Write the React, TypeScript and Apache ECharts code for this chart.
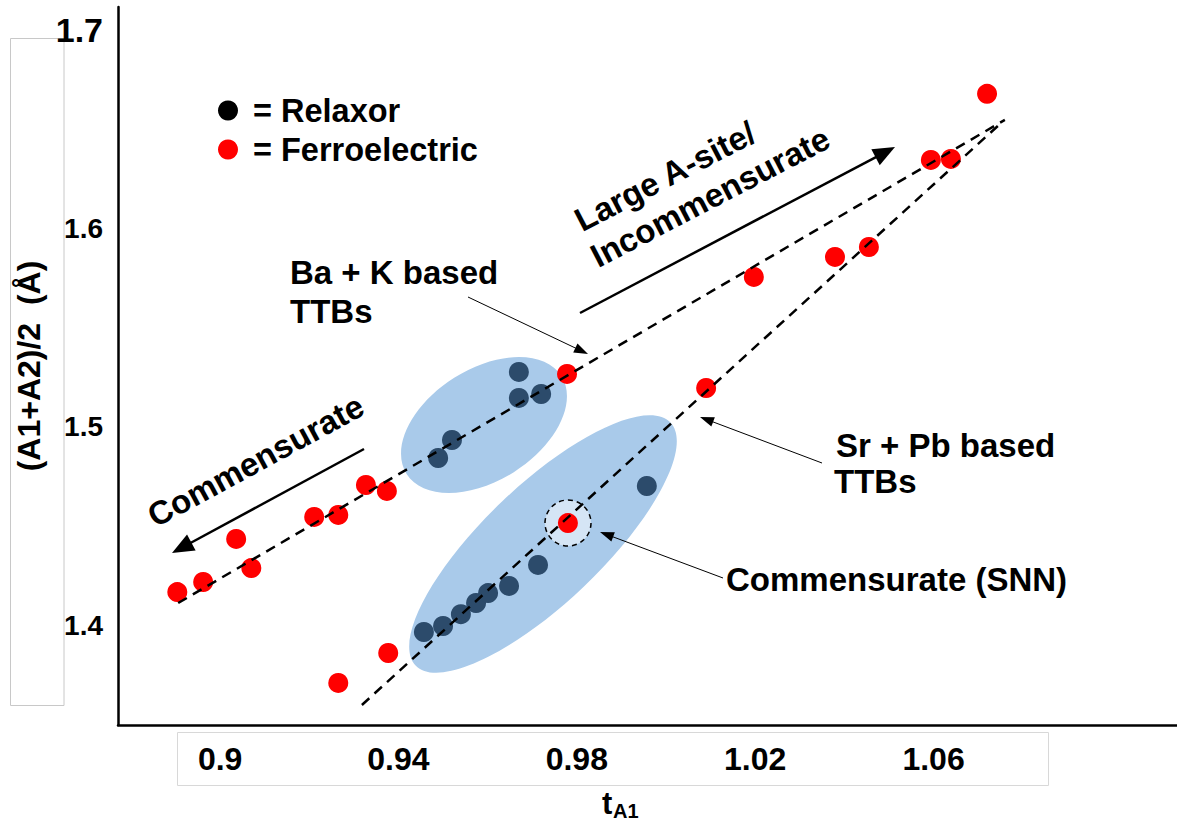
import React, { useEffect, useRef } from 'react';
import * as echarts from 'echarts';

const F = '"Liberation Sans", Arial, Helvetica, sans-serif';

// tick labels
const xTicks = [0.9, 0.94, 0.98, 1.02, 1.06];
const yTicks = [1.4, 1.5, 1.6, 1.7];

// Relaxor (dark) points
const relaxorX = [0.9489, 0.952, 0.967, 0.967, 0.972, 0.9457, 0.95, 0.954, 0.9574, 0.9601, 0.9648, 0.9713, 0.9957];
const relaxorY = [1.4843, 1.4934, 1.5277, 1.5146, 1.5166, 1.3966, 1.3996, 1.4056, 1.4112, 1.4162, 1.4198, 1.4304, 1.4702];

// Ferroelectric (red) points
const ferroX = [0.8904, 0.8962, 0.9036, 0.907, 0.9211, 0.9265, 0.9327, 0.9374, 0.9265, 0.9377, 0.9778, 0.978, 1.009, 1.0197, 1.0379, 1.0455, 1.0594, 1.0639, 1.072];
const ferroY = [1.4167, 1.4218, 1.4435, 1.4288, 1.4546, 1.4556, 1.4707, 1.4677, 1.3709, 1.386, 1.5267, 1.4515, 1.5196, 1.5756, 1.5857, 1.5907, 1.6346, 1.6351, 1.6679];

// dashed trend lines
const baKLineX = [0.8906, 1.076];
const baKLineY = [1.4112, 1.6548];
const srPbLineX = [0.9318, 1.0749];
const srPbLineY = [1.3598, 1.6527];

const pairs = (xs: number[], ys: number[]) => xs.map((x, i) => [x, ys[i]]);

function arrow(x1: number, y1: number, x2: number, y2: number, w: number, hl: number, hw: number) {
  const dx = x2 - x1, dy = y2 - y1;
  const L = Math.hypot(dx, dy);
  const ux = dx / L, uy = dy / L;
  const bx = x2 - ux * hl, by = y2 - uy * hl;
  const px = -uy, py = ux;
  return [
    { type: 'line', shape: { x1, y1, x2: bx + ux, y2: by + uy }, style: { stroke: '#000', lineWidth: w }, z: 10 },
    {
      type: 'polygon',
      shape: { points: [[x2, y2], [bx + (px * hw) / 2, by + (py * hw) / 2], [bx - (px * hw) / 2, by - (py * hw) / 2]] },
      style: { fill: '#000' },
      z: 10,
    },
  ];
}

function label(text: string, x: number, y: number, size: number, rotDeg = 0) {
  return {
    type: 'text',
    x,
    y,
    rotation: (rotDeg * Math.PI) / 180,
    style: { text, x: 0, y: 0, fontSize: size, fontWeight: 'bold', fontFamily: F, fill: '#000', align: 'left', verticalAlign: 'middle' },
    z: 10,
  };
}

export default function App() {
  const ref = useRef<HTMLDivElement>(null);
  useEffect(() => {
    document.body.style.margin = '0';
    const chart = echarts.init(ref.current!, undefined, { renderer: 'svg' });
    const option: any = {
      animation: false,
      backgroundColor: '#fff',
      grid: { left: 118, right: 0, top: 7, bottom: 98 },
      legend: {
        orient: 'vertical',
        left: 213,
        top: 89,
        itemWidth: 20,
        itemHeight: 20,
        itemGap: 6,
        icon: 'circle',
        selectedMode: false,
        data: [{ name: 'Relaxor', itemStyle: { color: '#000' } }, { name: 'Ferroelectric', itemStyle: { color: '#ff0000' } }],
        formatter: (n: string) => `{t|= ${n}}`,
        textStyle: { rich: { t: { fontSize: 32.5, fontWeight: 'bold', fontFamily: F, color: '#000', padding: [0, 0, 0, 10] } } },
      },
      xAxis: {
        type: 'value',
        min: 0.8771,
        max: 1.1146,
        axisLine: { show: true, lineStyle: { color: '#000', width: 2.5 } },
        axisTick: { show: false },
        splitLine: { show: false },
        axisLabel: {
          customValues: xTicks,
          margin: 18,
          fontSize: 32,
          fontWeight: 'bold',
          fontFamily: F,
          color: '#000',
          formatter: (v: number) => String(v),
        },
      },
      yAxis: {
        type: 'value',
        min: 1.3497,
        max: 1.7117,
        name: '(A1+A2)/2  (Å)',
        nameLocation: 'middle',
        nameGap: 62,
        nameTextStyle: { fontSize: 32, fontWeight: 'bold', fontFamily: F, color: '#000' },
        axisLine: { show: true, lineStyle: { color: '#000', width: 2.5 } },
        axisTick: { show: false },
        splitLine: { show: false },
        axisLabel: {
          customValues: yTicks,
          margin: 15,
          formatter: (v: number) => (Math.abs(v - 1.7) < 1e-6 ? '{b|1.7}' : `{a|${v.toFixed(1)}}`),
          rich: {
            a: { fontSize: 28, fontWeight: 'bold', fontFamily: F, color: '#000' },
            b: { fontSize: 34, fontWeight: 'bold', fontFamily: F, color: '#000' },
          },
        },
      },
      graphic: [
        // label frames
        { type: 'rect', shape: { x: 10.5, y: 38.5, width: 53.5, height: 667 }, style: { fill: 'none', stroke: '#c8c8c8', lineWidth: 1 }, z: 0 },
        { type: 'rect', shape: { x: 177.5, y: 732.5, width: 871, height: 53 }, style: { fill: 'none', stroke: '#d8d8d8', lineWidth: 1 }, z: 0 },
        // cluster ellipses
        { type: 'ellipse', x: 484, y: 425, rotation: (32.3 * Math.PI) / 180, shape: { cx: 0, cy: 0, rx: 91.6, ry: 55.8 }, style: { fill: '#a9caea' }, z: 0 },
        { type: 'ellipse', x: 543, y: 544, rotation: (43.6 * Math.PI) / 180, shape: { cx: 0, cy: 0, rx: 176, ry: 59 }, style: { fill: '#a9caea' }, z: 0 },
        // SNN highlight circle
        { type: 'circle', shape: { cx: 568, cy: 523, r: 23 }, style: { fill: '#d5e5f5', stroke: '#000', lineWidth: 1.5, lineDash: [5, 4] }, z: 1 },
        // arrows
        ...arrow(580, 313, 895, 147, 2.5, 22, 18),
        ...arrow(364, 449, 172, 553, 2.5, 22, 18),
        ...arrow(468, 297, 588, 354, 1, 14, 10),
        ...arrow(822, 463, 700, 417, 1, 14, 10),
        ...arrow(723, 578, 600, 532, 1, 14, 10),
        // annotation texts
        label('Ba + K based', 290, 272, 33),
        label('TTBs', 290, 311, 33),
        label('Sr + Pb based', 836, 445, 33),
        label('TTBs', 834, 481, 33),
        label('Commensurate (SNN)', 726, 579, 33),
        label('Large A-site/', 577, 222, 33, 27.5),
        label('Incommensurate', 593, 258, 33, 27.5),
        label('Commensurate', 150, 518, 33, 28.5),
        // x axis title t_A1
        { type: 'text', x: 602, y: 803, style: { text: 't', fontSize: 31, fontWeight: 'bold', fontFamily: F, fill: '#000', align: 'left', verticalAlign: 'middle' }, z: 10 },
        { type: 'text', x: 613, y: 811, style: { text: 'A1', fontSize: 20, fontWeight: 'bold', fontFamily: F, fill: '#000', align: 'left', verticalAlign: 'middle' }, z: 10 },
      ],
      series: [
        {
          type: 'scatter',
          name: 'Relaxor',
          data: pairs(relaxorX, relaxorY),
          symbolSize: 20,
          itemStyle: { color: '#2c4b6b', opacity: 1 },
          z: 2,
        },
        {
          type: 'scatter',
          name: 'Ferroelectric',
          data: pairs(ferroX, ferroY),
          symbolSize: 20,
          itemStyle: { color: '#ff0000', opacity: 1 },
          z: 2,
        },
        {
          type: 'line',
          name: 'Ba + K based TTBs trend',
          data: pairs(baKLineX, baKLineY),
          symbol: 'none',
          silent: true,
          lineStyle: { color: '#000', width: 2.5, type: [10, 7] },
          z: 3,
        },
        {
          type: 'line',
          name: 'Sr + Pb based TTBs trend',
          data: pairs(srPbLineX, srPbLineY),
          symbol: 'none',
          silent: true,
          lineStyle: { color: '#000', width: 2.5, type: [10, 7] },
          z: 3,
        },
      ],
    };
    chart.setOption(option);
    return () => chart.dispose();
  }, []);
  return <div ref={ref} style={{ width: 1177, height: 823, position: 'fixed', left: 0, top: 0 }} />;
}
